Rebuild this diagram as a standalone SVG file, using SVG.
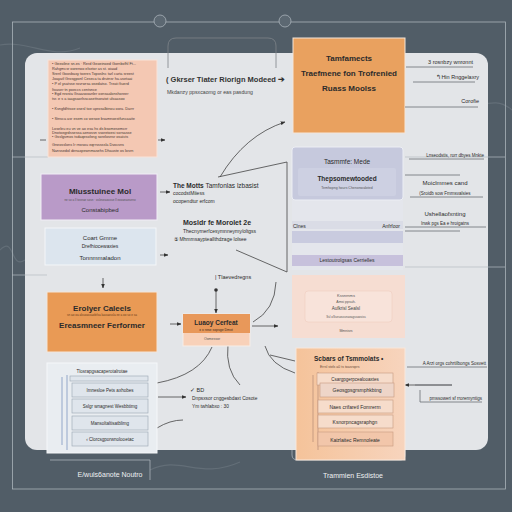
<svg xmlns="http://www.w3.org/2000/svg" width="512" height="512" viewBox="0 0 512 512">
<defs>
<marker id="ah" viewBox="0 0 10 10" refX="9" refY="5" markerWidth="6" markerHeight="6" orient="auto-start-reverse"><path d="M0,1 L10,5 L0,9 z" fill="#333"/></marker>
<linearGradient id="pg" x1="0" y1="0" x2="1" y2="0"><stop offset="0" stop-color="#f5c39a"/><stop offset="1" stop-color="#f7d4bd"/></linearGradient>
<style>
text{font-family:"Liberation Sans",Arial,sans-serif;fill:#2b2b2b}
.t{font-size:8px;font-weight:bold}
.s{font-size:5.5px}
.xs{font-size:3.5px;fill:#555}
.nt{font-size:3.8px;fill:#4a3a33}
.w{fill:#eef0f2;font-size:7px}
.c{stroke:#444;stroke-width:0.8;fill:none}
.ca{stroke:#444;stroke-width:0.8;fill:none;marker-end:url(#ah)}
.ul{stroke:#6b6f74;stroke-width:0.8}
.card{fill:#dfe5ec;stroke:#9aa6b2;stroke-width:0.6}
.pcard{fill:#f6dccb;stroke:#c79a80;stroke-width:0.6}
</style>
</defs>
<rect width="512" height="512" fill="#515d67"/>
<g fill="none" stroke="#6f7a83" stroke-width="1.2" opacity="0.6">
<path d="M0,45 C30,40 50,60 80,48"/><path d="M440,100 C470,120 490,90 512,110"/><path d="M150,470 C180,455 200,480 240,462"/><path d="M0,250 C15,235 10,270 25,260"/>
</g>
<rect x="12.5" y="22" width="493" height="467" fill="none" stroke="#aab3ba" stroke-width="0.8"/>
<circle cx="160" cy="21" r="6" fill="#5c6872" stroke="#aab3ba" stroke-width="0.8"/>
<circle cx="285" cy="21" r="6" fill="#5c6872" stroke="#aab3ba" stroke-width="0.8"/>
<rect x="25" y="53" width="463" height="397" rx="12" fill="#e3e5e8"/>
<g stroke="#b5bbc1" stroke-width="0.7">
<line x1="12" y1="157" x2="48" y2="157"/><line x1="405" y1="157" x2="505" y2="157"/>
<line x1="12" y1="275" x2="47" y2="275"/><line x1="405" y1="267" x2="505" y2="267"/>
</g>
<path d="M168,68 V46 Q168,38 176,38 H268 Q276,38 276,46 V68" fill="none" stroke="#7d8489" stroke-width="0.8"/>
<path d="M292,450 V455 Q292,460 298,460 H400 Q405,460 405,455 V450" fill="none" stroke="#aab3ba" stroke-width="0.8"/>
<path d="M50,460 H150 V480" fill="none" stroke="#aab3ba" stroke-width="0.8"/>

<g id="connectors">
<path class="ca" d="M220,177 Q245,135 285,122"/>
<path class="c" d="M218,177 L287,162 V272 L236,250"/>
<path class="ca" d="M160,192 H170"/>
<path class="ca" d="M160,255 H168"/>
<path class="ca" d="M103,278 V288"/>
<path class="ca" d="M170,324 H181"/>
<path class="ca" d="M252,326 H278"/>
<circle cx="216" cy="290" r="1.8" fill="#333"/>
<path class="ca" d="M216,291 V313"/>
<path class="c" d="M157,383 Q200,375 212,347"/>
<path class="c" d="M228,344 Q225,370 240,385"/>
<path class="ca" d="M158,397 H186"/>
<path class="c" d="M253,322 Q275,310 276,282"/>
<path class="c" d="M265,346 Q270,365 295,373"/>
<path class="c" d="M270,355 L295,361"/>
<path class="ca" d="M318,207 Q325,212 327,220"/>
<path class="c" d="M40,140 H46"/><path class="ca" d="M158,140 H165"/>
<path class="ca" d="M452,385 H405"/>
<path class="c" d="M157,428 Q170,420 183,420"/>
</g>

<g id="n-notes">
<rect x="48" y="60" width="109" height="97" fill="#f4c8b3" stroke="#f8e4da" stroke-width="1"/>
<text class="nt" x="52" y="65">• Geeoline sn.es · Rerd Geoeinoed Gornbxfhl Ft...</text>
<text class="nt" x="52" y="70">Rahgmcsr oorenoo elsetor as st. oiaad</text>
<text class="nt" x="52" y="75">Srenl Goosbaxy toeres Toposlnc tarl carta sreest</text>
<text class="nt" x="52" y="80">Joayatl Grosgponl Ceseca ta drutnsr ha.usetaai</text>
<text class="nt" x="52" y="85">• P el ysatsse rovrwrsa osedatsx. Treati fiuerd</text>
<text class="nt" x="52" y="91">Itxaser tn poeccs centsnce</text>
<text class="nt" x="52" y="95">• Egd nrosta Gsaasoxanler oxnsaalonshoreer</text>
<text class="nt" x="52" y="100">tsr. e s a  iaagsaorlsscasettsoratot ulsaasoo</text>
<text class="nt" x="52" y="110">• Ksngfdhtsoe osesl toe uprosalbinou oora. Darrr</text>
<text class="nt" x="52" y="120">• Stnsca asr esem co wesoe bsamnoestfuncaaite</text>
<text class="nt" x="52" y="130">Loseleu eu vn ve ao esa hs ds bsomesemcrr</text>
<text class="nt" x="52" y="134">Dnotoegrdssessa aenossn ssoretoesi sorsasse</text>
<text class="nt" x="52" y="138">• Gsslgsmos tsdaqesolsng sorelosnsr osatcts</text>
<text class="nt" x="52" y="146">Gneosslons Ir rnosou eqrrsssssla Dvocsns</text>
<text class="nt" x="52" y="152">Nanssedol denaxpewnmasehs Dhauste os losrn</text>
</g>

<g id="n-title">
<text x="166" y="82" style="font-size:7.5px;font-weight:bold;fill:#333">( Gkrser Tiater Riorign Modeed ➔</text>
<text x="167" y="94" style="font-size:5.2px;fill:#444">Mkdanzy ppsxcaomg or eas pasdung</text>
</g>

<g id="n-orange-top">
<rect x="293" y="38" width="112" height="95" fill="#e9a15f" stroke="#f4e6da" stroke-width="1"/>
<text class="t" x="349" y="61" text-anchor="middle">Tamfamects</text>
<text class="t" x="349" y="76" text-anchor="middle">Traefmene fon Trofrenied</text>
<text class="t" x="349" y="91" text-anchor="middle">Ruass Moolss</text>
</g>

<g id="n-right-top">
<text class="s" x="473" y="64" text-anchor="end">3 rosnbzy wnronnt</text>
<line class="ul" x1="406" y1="67" x2="473" y2="67"/>
<text class="s" x="479" y="79" text-anchor="end">↰Hin Rnggelaxry</text>
<line class="ul" x1="413" y1="82" x2="475" y2="82"/>
<text class="s" x="479" y="103" text-anchor="end">Corofie</text>
<line class="ul" x1="405" y1="107" x2="478" y2="107"/>
</g>

<g id="n-purple">
<rect x="41" y="174" width="116" height="46" fill="#b99ac8" stroke="#f2eef6" stroke-width="1"/>
<text class="t" x="100" y="194" text-anchor="middle">Mlusstuinee Mol</text>
<text class="xs" x="100" y="201" text-anchor="middle" style="font-size:3px">ne so a ll tosnae sosn · osleseaousse ll eooanaeseno</text>
<text x="100" y="212" text-anchor="middle" style="font-size:6px">Constabipbed</text>
</g>

<g id="n-blue">
<rect x="45" y="228" width="111" height="37" fill="#dce5ee" stroke="#f4f6f8" stroke-width="1"/>
<text x="100" y="240" text-anchor="middle" style="font-size:6px">Coart Gmme</text>
<text x="100" y="248" text-anchor="middle" style="font-size:5px">Drefhiocewaxies</text>
<text x="100" y="260" text-anchor="middle" style="font-size:6px">Tonnmmaladon</text>
</g>

<g id="n-center-a">
<text x="173" y="188" style="font-size:6.5px;font-weight:bold">The Motts  <tspan font-weight="normal">Tamfonlas lzbasist</tspan></text>
<text x="173" y="195" style="font-size:5px">cocodstMiiess</text>
<text x="173" y="203" style="font-size:5px">ocopendtur erfcom</text>
</g>

<g id="n-center-b">
<text x="183" y="225" style="font-size:7px;font-weight:bold">Mosldr fe Morolet 2e</text>
<text x="183" y="233" style="font-size:5px">Thecnyrnerfcesymnneymy/oltgss</text>
<text x="174" y="241" style="font-size:5px">⑤ Mhmmsaypteallthdzage lolsee</text>
</g>

<g id="n-lavender">
<rect x="292" y="200" width="111" height="70" fill="#e4e6ec"/>
<rect x="292" y="147" width="111" height="53" rx="3" fill="#c6c9dd" stroke="#eceef4" stroke-width="1"/>
<text x="347" y="164" text-anchor="middle" style="font-size:6.5px">Tasmmfe: Mede</text>
<rect x="298" y="168" width="98" height="28" rx="2" fill="#cdd0e2"/>
<text x="347" y="181" text-anchor="middle" style="font-size:6.5px;font-weight:bold">Thepsomewtooded</text>
<text x="347" y="189" text-anchor="middle" class="xs">Temhopng hours Chenonwaloted</text>
<rect x="292" y="221" width="111" height="8" fill="#dadce6"/>
<text x="293" y="228" style="font-size:5px">Clnes</text>
<text x="400" y="228" text-anchor="end" style="font-size:5px">Anfrfoor</text>
<rect x="292" y="231" width="111" height="12" fill="#c9cbdf"/>
<rect x="292" y="255" width="111" height="11" fill="#c7c1dc"/>
<text x="347" y="262" text-anchor="middle" style="font-size:5px">Lestoutrolgsas Cerrielles</text>
</g>

<g id="n-right-mid">
<text x="484" y="157" text-anchor="end" style="font-size:4.5px">Lnseodstis, rorr dbyes Mnkte</text>
<line class="ul" x1="409" y1="159" x2="484" y2="159"/>
<line class="ul" x1="405" y1="175" x2="460" y2="175"/>
<text x="445" y="185" text-anchor="middle" style="font-size:6px">Moiclmmes cand</text>
<text x="445" y="195" text-anchor="middle" style="font-size:4.5px">(Sroidb sow Fmmsvalsies</text>
<line class="ul" x1="410" y1="197" x2="483" y2="197"/>
<text x="445" y="216" text-anchor="middle" style="font-size:6px">Ushellaofxnting</text>
<text x="445" y="225" text-anchor="middle" style="font-size:4.5px">Inwk pgs Ea e hroigatns</text>
<line class="ul" x1="405" y1="227" x2="486" y2="227"/>
<line class="ul" x1="405" y1="231" x2="460" y2="231"/>
</g>

<g id="n-peach">
<rect x="292" y="275" width="113" height="63" fill="#f6ddd2"/>
<rect x="305" y="291" width="87" height="31" rx="3" fill="#f8e3da" stroke="#ecc9b9" stroke-width="0.5"/>
<text x="346" y="297" text-anchor="middle" style="font-size:4px;fill:#555">Kssnrnms</text>
<text x="346" y="303" text-anchor="middle" class="xs">Amsi ppsuh.</text>
<text x="346" y="310" text-anchor="middle" style="font-size:4.5px;fill:#444">Aufkrisl Sealsl</text>
<text x="346" y="318" text-anchor="middle" class="xs" style="font-size:3px">Ssl oSsesosssnaeagssoosiss</text>
<text x="346" y="332" text-anchor="middle" class="xs">Mmnisrs</text>
</g>

<g id="n-orange-left">
<rect x="47" y="292" width="110" height="60" fill="#e99a55" stroke="#f4e6da" stroke-width="1"/>
<text class="t" x="102" y="311" text-anchor="middle">Erolyer Caleels</text>
<text x="102" y="316" text-anchor="middle" class="xs" style="font-size:3px;fill:#6a3a1a">sn ao oa alssoassaolelsa laasaossla ee a oo so e sa</text>
<text class="t" x="102" y="328" text-anchor="middle">Ereasmneer Ferformer</text>
</g>

<g id="n-center-box">
<rect x="183" y="314" width="67" height="32" fill="#f8d1b9" stroke="#f6eee8" stroke-width="1"/>
<rect x="183" y="314" width="67" height="19" fill="#e8985a"/>
<text x="216" y="325" text-anchor="middle" style="font-size:6.5px;font-weight:bold">Luaoy  Cerfeat</text>
<text x="216" y="331" text-anchor="middle" class="xs" style="fill:#3a2a1a">x x rese sxpsge Dmxt</text>
<text x="212" y="340" text-anchor="middle" class="xs">Oomessor</text>
</g>

<g id="n-label-mid">
<text x="215" y="279" style="font-size:5.5px">| Tlaevedregns</text>
</g>

<g id="n-list-right">
<rect x="296" y="348" width="109" height="112" fill="url(#pg)" stroke="#f8e8dc" stroke-width="1"/>
<text x="314" y="361" style="font-size:6.5px;font-weight:bold">Scbars of Tsmmolats •</text>
<text x="320" y="368" class="xs" style="fill:#6a4a3a">Errsl stels a0 ts toasroprs</text>
<path d="M313,375 V442 M318,372 V450" stroke="#a88070" stroke-width="0.6" fill="none"/>
<rect class="pcard" x="317" y="373" width="76" height="12"/>
<text x="355" y="380.5" text-anchor="middle" style="font-size:4.5px">Csargpgerpcealooaxtes</text>
<rect class="pcard" x="320" y="383" width="74" height="14" style="fill:#eed5c8"/>
<text x="357" y="392" text-anchor="middle" style="font-size:5px">Geosgpsgrsmphkbtng</text>
<rect class="pcard" x="318" y="400" width="75" height="13"/>
<text x="355" y="409" text-anchor="middle" style="font-size:5px">Naes crifaretl Fomrerm</text>
<rect class="pcard" x="318" y="415" width="75" height="13"/>
<text x="355" y="424" text-anchor="middle" style="font-size:5px">Ksnorpncagsraphgn</text>
<rect class="pcard" x="318" y="432" width="75" height="14" style="fill:#f2c6aa"/>
<text x="355" y="442" text-anchor="middle" style="font-size:5px">Kaizlaitec Remnoleate</text>
</g>

<g id="n-right-low">
<text x="486" y="365" text-anchor="end" style="font-size:4.5px">A Arzi orgs cohrtilbongs Sosvett</text>
<line class="ul" x1="407" y1="367" x2="487" y2="367"/>
<line class="ul" x1="415" y1="385" x2="452" y2="385"/>
<text x="482" y="400" text-anchor="end" style="font-size:4.5px">pmssoweri sf rroremyntigs</text>
<line class="ul" x1="420" y1="402" x2="482" y2="402"/>
<line class="ul" x1="420" y1="390" x2="420" y2="402"/>
</g>

<g id="n-list-left">
<rect x="47" y="363" width="110" height="90" fill="#e9edf1" stroke="#f5f7f9" stroke-width="1"/>
<text x="102" y="373" text-anchor="middle" style="font-size:4.5px">Tlosrapgsacaperotalrotae</text>
<path d="M62,377 V445 M67,375 V450" stroke="#5a7ab0" stroke-width="0.6" fill="none"/>
<rect class="card" x="70" y="376" width="78" height="5" fill="#e3eaf2"/>
<rect class="card" x="72" y="383" width="76" height="14"/>
<text x="110" y="392" text-anchor="middle" style="font-size:4.5px">Imnesloe Pets axhobes</text>
<rect class="card" x="72" y="399" width="76" height="14"/>
<text x="110" y="408" text-anchor="middle" style="font-size:4.5px">Sslgr wnagnest Wesbbtimg</text>
<rect class="card" x="72" y="416" width="76" height="14"/>
<text x="110" y="425" text-anchor="middle" style="font-size:4.5px">Mansoltaltisatblimg</text>
<rect class="card" x="72" y="432" width="76" height="14"/>
<text x="110" y="441" text-anchor="middle" style="font-size:4.5px">‹ Clorcsgporwnolooetac</text>
</g>

<g id="n-bd">
<text x="190" y="392" style="font-size:5.5px">✓ BD</text>
<text x="192" y="400" style="font-size:4.8px">Dnpsxsor cnggesbdaxt Cosote</text>
<text x="192" y="408" style="font-size:4.8px">Ym twhlabxo : 30</text>
</g>

<g id="n-bottom">
<text class="w" x="110" y="477" text-anchor="middle">E/wuls6anote Noutro</text>
<text class="w" x="353" y="478" text-anchor="middle">Trammien Esdistoe</text>
</g>
</svg>
